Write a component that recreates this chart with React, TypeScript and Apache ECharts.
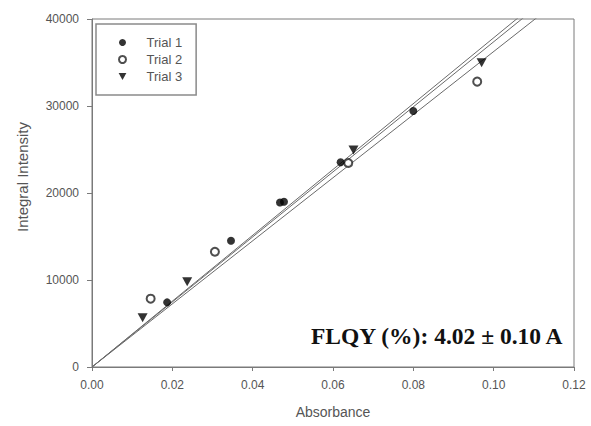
import React, { useEffect, useRef } from "react";
import * as echarts from "echarts";

// Absorbance vs. integrated fluorescence intensity for three trials
const trial1X = [0.0187, 0.0346, 0.0468, 0.0478, 0.0619, 0.08];
const trial1Y = [7430, 14520, 18900, 19000, 23530, 29430];
const trial2X = [0.0146, 0.0306, 0.0638, 0.0959];
const trial2Y = [7850, 13250, 23450, 32800];
const trial3X = [0.0126, 0.0237, 0.0651, 0.097];
const trial3Y = [5650, 9800, 24950, 34980];

// Slopes of the linear fits through the origin (intensity per absorbance unit)
const fitSlopes = [378400, 373800, 362600];

const trialNames = ["Trial 1", "Trial 2", "Trial 3"];
const xTicks = [0, 0.02, 0.04, 0.06, 0.08, 0.1, 0.12];
const yTicks = [0, 10000, 20000, 30000, 40000];
const annotation = "FLQY (%): 4.02 \u00b1 0.10 A";

const TRIANGLE = "path://M0,0 L10,0 L5,9 Z";
const AXIS_GREY = "#7a7a7a";
const TEXT_GREY = "#555";
const SANS = "'Liberation Sans', Arial, sans-serif";

const zip = (xs: number[], ys: number[]) => xs.map((x, i) => [x, ys[i]]);

export default function App() {
  const ref = useRef<HTMLDivElement>(null);

  useEffect(() => {
    if (!ref.current) return;
    const chart = echarts.init(ref.current, undefined, { renderer: "svg" });

    const xEnd = xTicks[xTicks.length - 1];
    const fitLines = fitSlopes.map((s) => ({
      type: "line" as const,
      data: [
        [0, 0],
        [xEnd, s * xEnd],
      ],
      showSymbol: false,
      silent: true,
      clip: true,
      lineStyle: { color: "#6a6a6a", width: 1 },
      z: 1,
    }));

    chart.setOption({
      animation: false,
      backgroundColor: "#fff",
      grid: {
        left: 92,
        right: 17,
        top: 19,
        bottom: 59,
        show: true,
        borderColor: AXIS_GREY,
        borderWidth: 1,
      },
      xAxis: {
        type: "value",
        min: 0,
        max: 0.12,
        interval: 0.02,
        name: "Absorbance",
        nameLocation: "middle",
        nameGap: 38,
        nameTextStyle: { fontFamily: SANS, fontSize: 14, color: TEXT_GREY },
        axisLine: { lineStyle: { color: AXIS_GREY } },
        axisTick: { length: 4, lineStyle: { color: AXIS_GREY } },
        axisLabel: {
          fontFamily: SANS,
          fontSize: 12,
          color: TEXT_GREY,
          margin: 12,
          formatter: (v: number) => v.toFixed(2),
        },
        splitLine: { show: false },
      },
      yAxis: {
        type: "value",
        min: 0,
        max: 40000,
        interval: 10000,
        axisLine: { show: true, lineStyle: { color: AXIS_GREY } },
        axisTick: { show: true, length: 5, lineStyle: { color: AXIS_GREY } },
        axisLabel: {
          fontFamily: SANS,
          fontSize: 12,
          color: TEXT_GREY,
          margin: 13,
          formatter: (v: number) => (yTicks.includes(v) ? String(v) : ""),
        },
        splitLine: { show: false },
      },
      legend: {
        orient: "vertical",
        left: 96,
        top: 24,
        padding: [12, 14, 12, 22],
        itemWidth: 38,
        itemHeight: 7,
        itemGap: 4,
        borderColor: "#8a8a8a",
        borderWidth: 1.5,
        backgroundColor: "#fff",
        textStyle: { fontFamily: SANS, fontSize: 13, color: TEXT_GREY, lineHeight: 13 },
        data: [
          { name: trialNames[0], icon: "circle" },
          { name: trialNames[1], icon: "emptyCircle" },
          { name: trialNames[2], icon: TRIANGLE },
        ],
      },
      graphic: [
        {
          type: "text",
          x: 22,
          y: 177,
          rotation: Math.PI / 2,
          style: {
            text: "Integral Intensity",
            font: `15px ${SANS}`,
            fill: TEXT_GREY,
            align: "center",
            verticalAlign: "middle",
          },
        },
        {
          type: "text",
          x: 311,
          y: 324,
          style: {
            text: annotation,
            font: "bold 23.5px 'Liberation Serif', 'Times New Roman', serif",
            fill: "#111",
          },
          z: 10,
        },
      ],
      series: [
        ...fitLines,
        {
          name: trialNames[0],
          type: "scatter",
          data: zip(trial1X, trial1Y),
          symbol: "circle",
          symbolSize: 8,
          itemStyle: { color: "#000" },
          z: 3,
        },
        {
          name: trialNames[1],
          type: "scatter",
          data: zip(trial2X, trial2Y),
          symbol: "emptyCircle",
          symbolSize: 8,
          itemStyle: { color: "#222", borderColor: "#222", borderWidth: 0.8 },
          z: 2,
        },
        {
          name: trialNames[2],
          type: "scatter",
          data: zip(trial3X, trial3Y),
          symbol: TRIANGLE,
          symbolSize: [10, 9],
          itemStyle: { color: "#000" },
          z: 3,
        },
      ],
    });

    return () => chart.dispose();
  }, []);

  return (
    <div
      ref={ref}
      style={{ position: "fixed", left: 0, top: 0, width: 591, height: 426 }}
    />
  );
}
